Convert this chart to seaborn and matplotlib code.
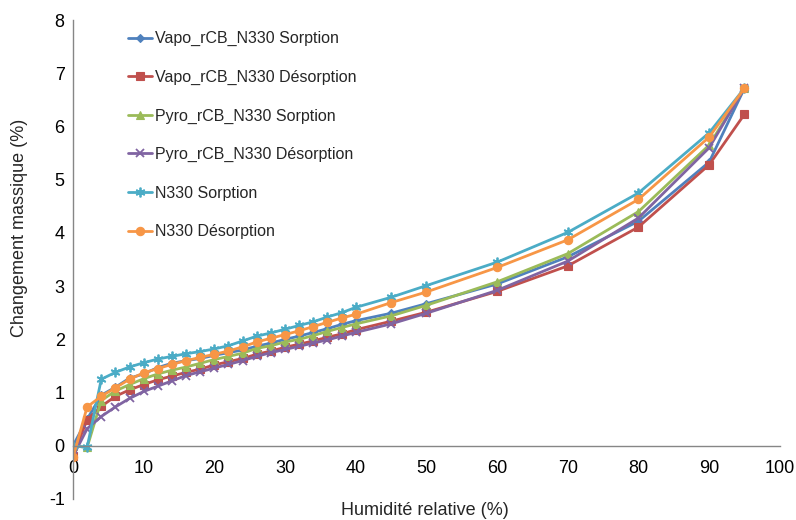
import matplotlib
matplotlib.use("Agg")
import matplotlib.pyplot as plt
import seaborn as sns
import pandas as pd

# Relative humidity steps (%)
humidity = [0, 2, 4, 6, 8, 10, 12, 14, 16, 18, 20, 22, 24, 26, 28, 30,
            32, 34, 36, 38, 40, 45, 50, 60, 70, 80, 90, 95]

# Mass change (%) for each isotherm branch
vapo_sorption = [0.0, 0.50, 0.95, 1.10, 1.27, 1.35, 1.47, 1.55, 1.60, 1.64,
                 1.70, 1.75, 1.80, 1.87, 1.93, 2.00, 2.06, 2.13, 2.20, 2.28,
                 2.35, 2.49, 2.67, 3.04, 3.55, 4.22, 5.33, 6.72]
vapo_desorption = [-0.19, 0.49, 0.74, 0.93, 1.05, 1.15, 1.24, 1.31, 1.38, 1.44,
                   1.52, 1.58, 1.64, 1.72, 1.78, 1.85, 1.91, 1.97, 2.04, 2.10,
                   2.18, 2.34, 2.51, 2.90, 3.38, 4.11, 5.28, 6.23]
pyro_sorption = [0.0, -0.03, 0.85, 1.03, 1.15, 1.26, 1.35, 1.42, 1.48, 1.55,
                 1.62, 1.68, 1.74, 1.83, 1.88, 1.95, 2.00, 2.07, 2.15, 2.22,
                 2.29, 2.44, 2.64, 3.08, 3.61, 4.40, 5.65, 6.72]
pyro_desorption = [-0.20, 0.32, 0.55, 0.73, 0.89, 1.02, 1.12, 1.22, 1.32, 1.39,
                   1.46, 1.53, 1.60, 1.68, 1.75, 1.81, 1.87, 1.93, 1.99, 2.06,
                   2.13, 2.29, 2.49, 2.92, 3.47, 4.28, 5.60, 6.72]
n330_sorption = [0.0, -0.03, 1.25, 1.38, 1.48, 1.56, 1.63, 1.68, 1.73, 1.77,
                 1.82, 1.88, 1.97, 2.06, 2.12, 2.19, 2.26, 2.33, 2.42, 2.50,
                 2.60, 2.79, 3.01, 3.45, 4.01, 4.75, 5.88, 6.72]
n330_desorption = [-0.22, 0.73, 0.93, 1.09, 1.25, 1.37, 1.45, 1.53, 1.60, 1.66,
                   1.72, 1.78, 1.86, 1.95, 2.02, 2.09, 2.16, 2.24, 2.32, 2.40,
                   2.47, 2.69, 2.89, 3.35, 3.87, 4.63, 5.80, 6.72]

series_names = ["Vapo_rCB_N330 Sorption", "Vapo_rCB_N330 Désorption",
                "Pyro_rCB_N330 Sorption", "Pyro_rCB_N330 Désorption",
                "N330 Sorption", "N330 Désorption"]
series_values = [vapo_sorption, vapo_desorption, pyro_sorption,
                 pyro_desorption, n330_sorption, n330_desorption]

colors = ["#4F81BD", "#C0504D", "#9BBB59", "#8064A2", "#4BACC6", "#F79646"]
markers = ["D", "s", "^", "x", (6, 2, 0), "o"]
msizes = [4.5, 5.5, 6, 6, 7, 6]

df = pd.concat(
    [pd.DataFrame({"Humidité": humidity, "Masse": vals, "Série": name})
     for name, vals in zip(series_names, series_values)],
    ignore_index=True)

sns.set_style("white")
plt.rcParams["font.family"] = ["Liberation Sans", "DejaVu Sans"]
plt.rcParams["axes.unicode_minus"] = False

fig = plt.figure(figsize=(7.96, 5.2), dpi=100)
ax = fig.add_axes([0.0917, 0.0404, 0.888, 0.9211])

for name, col, mk, ms in zip(series_names, colors, markers, msizes):
    sub = df[df["Série"] == name]
    sns.lineplot(data=sub, x="Humidité", y="Masse", ax=ax, color=col,
                 marker=mk, markersize=ms, markeredgecolor=col,
                 markeredgewidth=1.3 if mk in ("x", (6, 2, 0)) else 0.8,
                 linewidth=2.0, label=name, sort=False, estimator=None)

ax.set_xlim(0, 100)
ax.set_ylim(-1, 8)
ax.set_xticks(range(0, 101, 10))
ax.set_yticks(range(-1, 9))

axis_gray = "#868686"
for side in ("top", "right"):
    ax.spines[side].set_visible(False)
ax.spines["bottom"].set_position(("data", 0))
ax.spines["left"].set_color(axis_gray)
ax.spines["bottom"].set_color(axis_gray)
ax.spines["left"].set_linewidth(1.0)
ax.spines["bottom"].set_linewidth(1.0)

ax.tick_params(axis="both", which="major", direction="out", length=4,
               width=1.0, color=axis_gray, labelsize=13, labelcolor="black")
ax.tick_params(axis="x", pad=6)
ax.tick_params(axis="y", pad=2)

ax.set_xlabel("Humidité relative (%)", fontsize=13)
ax.set_ylabel("Changement massique (%)", fontsize=13)
ax.xaxis.set_label_coords(0.498, -0.006)
ax.yaxis.set_label_coords(-0.064, 0.566)

leg = ax.legend(loc="upper left", bbox_to_anchor=(0.161, 0.94),
                bbox_transform=fig.transFigure, frameon=False, fontsize=11.5,
                labelspacing=1.47, handlelength=1.5, handletextpad=0.15,
                borderpad=0, borderaxespad=0)

fig.savefig("out.png", dpi=100)
